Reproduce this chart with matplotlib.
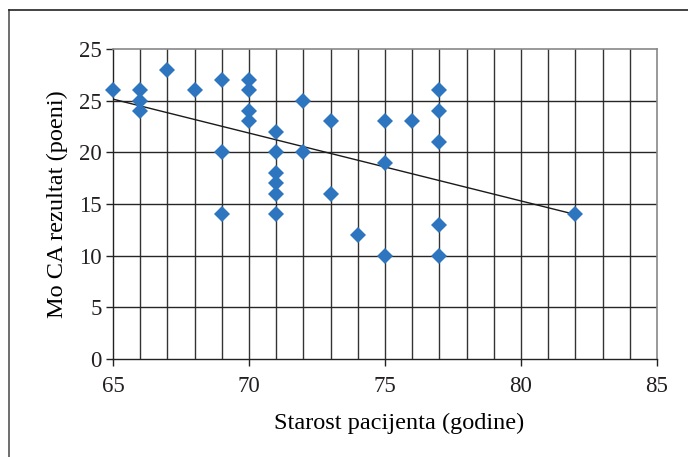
import numpy as np
import matplotlib
matplotlib.use("Agg")
import matplotlib.pyplot as plt
from matplotlib.lines import Line2D

# patient age (years) and MoCA score (points)
ages = [65, 66, 66, 66, 67, 68, 69, 69, 69, 70, 70, 70, 70,
        71, 71, 71, 71, 71, 71, 72, 72, 73, 73, 74, 75, 75, 75,
        76, 77, 77, 77, 77, 77, 82]
scores = [26, 26, 25, 24, 28, 26, 27, 20, 14, 27, 26, 24, 23,
          22, 20, 18, 17, 16, 14, 25, 20, 23, 16, 12, 23, 19, 10,
          23, 26, 24, 21, 13, 10, 14]

x_ticks = [65, 70, 75, 80, 85]
y_ticks = [0, 5, 10, 15, 20, 25, 30]
y_tick_labels = ["0", "5", "10", "15", "20", "25", "25"]

plt.rcParams["font.family"] = ["Liberation Serif", "DejaVu Serif"]
plt.rcParams["text.color"] = "#231f20"
plt.rcParams["xtick.labelcolor"] = "#231f20"
plt.rcParams["ytick.labelcolor"] = "#231f20"

fig = plt.figure(figsize=(6.88, 4.57), dpi=100)
ax = fig.add_axes([113 / 688, 98 / 457, 544 / 688, 310 / 457])

# outer frame of the figure (only top and left are visible in the crop)
fig.add_artist(Line2D([9 / 688, 9 / 688], [0, 1 - 10 / 457], transform=fig.transFigure,
                      color="#555555", lw=1.2))
fig.add_artist(Line2D([9 / 688, 1], [1 - 10 / 457, 1 - 10 / 457], transform=fig.transFigure,
                      color="#222222", lw=1.2))

ax.set_xlim(65, 85)
ax.set_ylim(0, 30)

for xv in range(66, 85):
    ax.axvline(xv, color="#333333", lw=1.0, zorder=1)
for yv in y_ticks[1:-1]:
    ax.axhline(yv, color="#262626", lw=1.0, zorder=1)

slope, intercept = np.polyfit(ages, scores, 1)
xs = np.array([min(ages), max(ages)])
ax.plot(xs, slope * xs + intercept, color="#1a1a1a", lw=1.0, zorder=3)

ax.plot(ages, scores, linestyle="none", marker="D", ms=7.8, color="#2e75c0",
        markeredgewidth=0, zorder=4, clip_on=False)

ax.set_xticks(x_ticks)
ax.set_yticks(y_ticks)
ax.set_yticklabels(y_tick_labels)
ax.tick_params(axis="both", labelsize=16.5, length=5, width=1, color="#222222", direction="out")
ax.tick_params(axis="y", pad=3)
ax.tick_params(axis="x", pad=7)

for side in ("left", "bottom"):
    ax.spines[side].set_color("#222222")
    ax.spines[side].set_linewidth(1.0)
for side in ("top", "right"):
    ax.spines[side].set_color("#888888")
    ax.spines[side].set_linewidth(1.2)

ax.set_xlabel("Starost pacijenta (godine)", fontsize=17.5)
ax.xaxis.set_label_coords(0.526, -0.175)
ax.set_ylabel("Mo CA rezultat (poeni)", fontsize=17.5, labelpad=8)

fig.savefig("out.png", dpi=100)
